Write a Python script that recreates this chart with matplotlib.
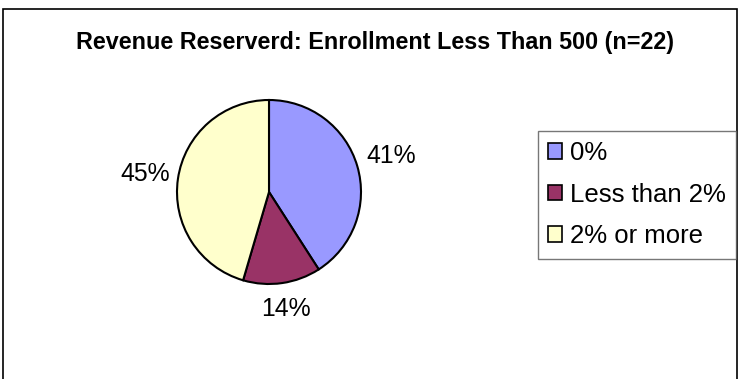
import matplotlib.pyplot as plt
from matplotlib.patches import Rectangle, Patch
import numpy as np

plt.rcParams['font.family'] = ['Liberation Sans', 'DejaVu Sans']

categories = ["0%", "Less than 2%", "2% or more"]
counts = [9, 3, 10]   # n=22
colors = ["#9999FF", "#993366", "#FFFFCC"]
label_dist = [1.38, 1.28, 1.36]

W, H = 739, 379
fig = plt.figure(figsize=(W / 100, H / 100), dpi=100)

# outer chart frame
fig.patches.append(Rectangle((3 / W, -0.1), 734 / W, 1.1 - 9 / H, transform=fig.transFigure,
                             fill=False, edgecolor="black", linewidth=1.2))

cx, cy, r = 269, 192, 92
ax = fig.add_axes([(cx - r) / W, (H - cy - r) / H, 2 * r / W, 2 * r / H])
wedges, _ = ax.pie(counts, colors=colors, startangle=90, counterclock=False,
                   wedgeprops=dict(edgecolor="black", linewidth=1.5))
ax.set_xlim(-1, 1)
ax.set_ylim(-1, 1)
ax.set_aspect("equal")

total = sum(counts)
for w, c, d in zip(wedges, counts, label_dist):
    ang = np.deg2rad((w.theta1 + w.theta2) / 2)
    ax.text(d * np.cos(ang), d * np.sin(ang), f"{round(100 * c / total)}%",
            ha="center", va="center", fontsize=17.8, clip_on=False)

fig.text(374.5 / W, 1 - 43 / H, "Revenue Reserverd: Enrollment Less Than 500 (n=22)",
         ha="center", va="center", fontsize=16.8, fontweight="bold")

handles = [Patch(facecolor=col, edgecolor="black", linewidth=1.2) for col in colors]
leg = fig.legend(handles, categories, loc="upper left",
                 bbox_to_anchor=(538 / W, 1 - 131 / H), fontsize=18.5,
                 handlelength=0.55, handleheight=0.55, handletextpad=0.3,
                 labelspacing=0.68, borderpad=0.4, borderaxespad=0,
                 fancybox=False, frameon=True)
leg.get_frame().set_edgecolor("#555555")
leg.get_frame().set_linewidth(1.0)

fig.savefig("out.png", dpi=100, facecolor="white")
